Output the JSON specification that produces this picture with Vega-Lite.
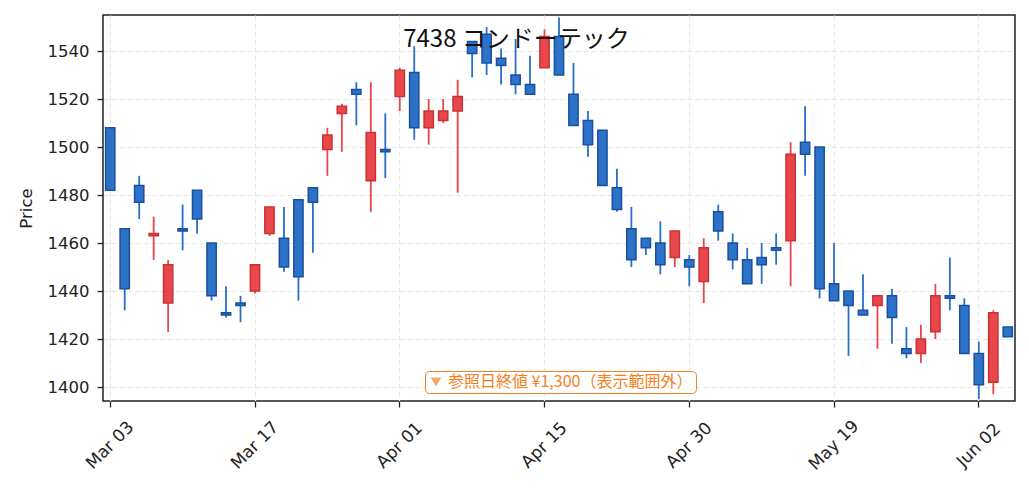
{
  "$schema": "https://vega.github.io/schema/vega-lite/v6.json",
  "autosize": {"type": "none"},
  "padding": {"left": 103, "top": 15, "right": 14, "bottom": 90},
  "width": 912,
  "height": 386,
  "background": "white",
  "title": {
    "text": "7438 コンドーテック",
    "frame": "bounds",
    "anchor": "middle",
    "offset": -37,
    "fontSize": 24,
    "fontWeight": "normal",
    "font": "Noto Sans CJK JP",
    "color": "#111"
  },
  "datasets": {
    "ref": [{"label": "参照日終値 ¥1,300（表示範囲外）", "price": 1300}]
  },
  "data": {
    "values": [
      {"date": "2025-03-03", "open": 1508, "high": 1508, "low": 1482, "close": 1482},
      {"date": "2025-03-04", "open": 1466, "high": 1466, "low": 1432, "close": 1441},
      {"date": "2025-03-05", "open": 1484, "high": 1488, "low": 1470, "close": 1477},
      {"date": "2025-03-06", "open": 1463, "high": 1471, "low": 1453, "close": 1464},
      {"date": "2025-03-07", "open": 1435, "high": 1453, "low": 1423, "close": 1451},
      {"date": "2025-03-10", "open": 1466, "high": 1476, "low": 1457, "close": 1465},
      {"date": "2025-03-11", "open": 1482, "high": 1482, "low": 1464, "close": 1470},
      {"date": "2025-03-12", "open": 1460, "high": 1460, "low": 1436, "close": 1438},
      {"date": "2025-03-13", "open": 1431, "high": 1442, "low": 1429, "close": 1430},
      {"date": "2025-03-14", "open": 1435, "high": 1438, "low": 1427, "close": 1434},
      {"date": "2025-03-17", "open": 1440, "high": 1451, "low": 1439, "close": 1451},
      {"date": "2025-03-18", "open": 1464, "high": 1475, "low": 1463, "close": 1475},
      {"date": "2025-03-19", "open": 1462, "high": 1475, "low": 1448, "close": 1450},
      {"date": "2025-03-21", "open": 1478, "high": 1478, "low": 1436, "close": 1446},
      {"date": "2025-03-24", "open": 1483, "high": 1483, "low": 1456, "close": 1477},
      {"date": "2025-03-25", "open": 1499, "high": 1508, "low": 1488, "close": 1505},
      {"date": "2025-03-26", "open": 1514, "high": 1518, "low": 1498, "close": 1517},
      {"date": "2025-03-27", "open": 1524, "high": 1527, "low": 1509, "close": 1522},
      {"date": "2025-03-28", "open": 1486, "high": 1527, "low": 1473, "close": 1506},
      {"date": "2025-03-31", "open": 1499, "high": 1514, "low": 1487, "close": 1498},
      {"date": "2025-04-01", "open": 1521, "high": 1533, "low": 1515, "close": 1532},
      {"date": "2025-04-02", "open": 1531, "high": 1542, "low": 1503, "close": 1508},
      {"date": "2025-04-03", "open": 1508, "high": 1520, "low": 1501, "close": 1515},
      {"date": "2025-04-04", "open": 1511, "high": 1520, "low": 1510, "close": 1515},
      {"date": "2025-04-07", "open": 1515, "high": 1528, "low": 1481, "close": 1521},
      {"date": "2025-04-08", "open": 1544, "high": 1544, "low": 1529, "close": 1539},
      {"date": "2025-04-09", "open": 1547, "high": 1550, "low": 1530, "close": 1535},
      {"date": "2025-04-10", "open": 1537, "high": 1541, "low": 1526, "close": 1534},
      {"date": "2025-04-11", "open": 1530, "high": 1545, "low": 1522, "close": 1526},
      {"date": "2025-04-14", "open": 1526, "high": 1538, "low": 1522, "close": 1522},
      {"date": "2025-04-15", "open": 1533, "high": 1549, "low": 1533, "close": 1546},
      {"date": "2025-04-16", "open": 1546, "high": 1554, "low": 1530, "close": 1530},
      {"date": "2025-04-17", "open": 1522, "high": 1535, "low": 1509, "close": 1509},
      {"date": "2025-04-18", "open": 1511, "high": 1515, "low": 1496, "close": 1501},
      {"date": "2025-04-21", "open": 1507, "high": 1507, "low": 1484, "close": 1484},
      {"date": "2025-04-22", "open": 1483, "high": 1491, "low": 1473, "close": 1474},
      {"date": "2025-04-23", "open": 1466, "high": 1475, "low": 1450, "close": 1453},
      {"date": "2025-04-24", "open": 1462, "high": 1462, "low": 1455, "close": 1458},
      {"date": "2025-04-25", "open": 1460, "high": 1469, "low": 1447, "close": 1451},
      {"date": "2025-04-28", "open": 1454, "high": 1465, "low": 1450, "close": 1465},
      {"date": "2025-04-30", "open": 1453, "high": 1455, "low": 1442, "close": 1450},
      {"date": "2025-05-02", "open": 1444, "high": 1462, "low": 1435, "close": 1458},
      {"date": "2025-05-07", "open": 1473, "high": 1476, "low": 1461, "close": 1465},
      {"date": "2025-05-08", "open": 1460, "high": 1464, "low": 1449, "close": 1453},
      {"date": "2025-05-09", "open": 1453, "high": 1458, "low": 1443, "close": 1443},
      {"date": "2025-05-12", "open": 1454, "high": 1460, "low": 1443, "close": 1451},
      {"date": "2025-05-13", "open": 1458, "high": 1464, "low": 1451, "close": 1457},
      {"date": "2025-05-14", "open": 1461, "high": 1502, "low": 1442, "close": 1497},
      {"date": "2025-05-15", "open": 1502, "high": 1517, "low": 1488, "close": 1497},
      {"date": "2025-05-16", "open": 1500, "high": 1500, "low": 1437, "close": 1441},
      {"date": "2025-05-19", "open": 1443, "high": 1460, "low": 1436, "close": 1436},
      {"date": "2025-05-20", "open": 1440, "high": 1440, "low": 1413, "close": 1434},
      {"date": "2025-05-21", "open": 1432, "high": 1447, "low": 1430, "close": 1430},
      {"date": "2025-05-22", "open": 1434, "high": 1438, "low": 1416, "close": 1438},
      {"date": "2025-05-23", "open": 1438, "high": 1441, "low": 1418, "close": 1429},
      {"date": "2025-05-26", "open": 1416, "high": 1425, "low": 1412, "close": 1414},
      {"date": "2025-05-27", "open": 1414, "high": 1426, "low": 1410, "close": 1420},
      {"date": "2025-05-28", "open": 1423, "high": 1443, "low": 1420, "close": 1438},
      {"date": "2025-05-29", "open": 1438, "high": 1454, "low": 1432, "close": 1437},
      {"date": "2025-05-30", "open": 1434, "high": 1437, "low": 1414, "close": 1414},
      {"date": "2025-06-02", "open": 1414, "high": 1419, "low": 1395, "close": 1401},
      {"date": "2025-06-03", "open": 1402, "high": 1432, "low": 1397, "close": 1431},
      {"date": "2025-06-04", "open": 1425, "high": 1425, "low": 1421, "close": 1421}
    ]
  },
  "encoding": {
    "y": {
      "type": "quantitative",
      "scale": {"domain": [1394.2, 1555], "zero": false, "nice": false},
      "title": "Price",
      "axis": {
        "values": [1400, 1420, 1440, 1460, 1480, 1500, 1520, 1540],
        "format": "d",
        "titlePadding": 13
      }
    }
  },
  "layer": [
    {
      "encoding": {
        "x": {
          "field": "date",
          "type": "ordinal",
          "sort": null,
          "scale": {"type": "band", "paddingInner": 0, "paddingOuter": 0},
          "title": null,
          "axis": {
            "values": ["2025-03-03", "2025-03-17", "2025-04-01", "2025-04-15", "2025-04-30", "2025-05-19", "2025-06-02"],
            "labelExpr": "utcFormat(toDate(datum.value), '%b %d')",
            "bandPosition": 0.5,
            "labelAngle": -45,
            "labelAlign": "center",
            "labelBaseline": "middle",
            "labelPadding": 38,
            "labelFontSize": 17,
            "labelOverlap": false,
            "grid": true
          }
        }
      },
      "layer": [
        {
          "mark": {"type": "rule", "strokeWidth": 1.8, "clip": true},
          "encoding": {
            "y": {"field": "low", "type": "quantitative"},
            "y2": {"field": "high"},
            "color": {
              "condition": {"test": "datum.close >= datum.open", "value": "#e8474a"},
              "value": "#2a6fc9"
            }
          }
        },
        {
          "mark": {"type": "bar", "width": {"band": 0.64}, "strokeWidth": 1.5, "clip": true},
          "encoding": {
            "y": {"field": "open", "type": "quantitative"},
            "y2": {"field": "close"},
            "fill": {
              "condition": {"test": "datum.close >= datum.open", "value": "#e8484b"},
              "value": "#2c72c8"
            },
            "stroke": {
              "condition": {"test": "datum.close >= datum.open", "value": "#cc3033"},
              "value": "#1a50a0"
            }
          }
        }
      ]
    },
    {
      "data": {"name": "ref"},
      "mark": {"type": "point", "clip": true, "filled": true},
      "encoding": {
        "y": {"field": "price", "type": "quantitative"},
        "color": {
          "field": "label",
          "type": "nominal",
          "scale": {"range": ["#f57f1e"]},
          "legend": {
            "title": null,
            "orient": "none",
            "legendX": 322,
            "legendY": 356,
            "symbolType": "triangle-down",
            "symbolSize": 110,
            "symbolFillColor": "#f57f1e",
            "symbolStrokeWidth": 0,
            "labelColor": "#f57f1e",
            "labelFontSize": 16,
            "labelFont": "Noto Sans CJK JP",
            "labelLimit": 400,
            "strokeColor": "#f57f1e",
            "fillColor": "white",
            "cornerRadius": 4,
            "padding": 3
          }
        }
      }
    }
  ],
  "config": {
    "font": "DejaVu Sans",
    "view": {"stroke": "#222", "strokeWidth": 1.5},
    "axis": {
      "domain": false,
      "labelFont": "DejaVu Sans",
      "labelFontSize": 16.5,
      "labelColor": "#222",
      "labelPadding": 8,
      "titleFont": "DejaVu Sans",
      "titleFontSize": 16.5,
      "titleFontWeight": "normal",
      "titleColor": "#222",
      "tickColor": "#222",
      "tickSize": 6,
      "tickWidth": 1.3,
      "gridColor": "#e6e6e6",
      "gridDash": [5, 3],
      "gridWidth": 1.2
    }
  }
}
